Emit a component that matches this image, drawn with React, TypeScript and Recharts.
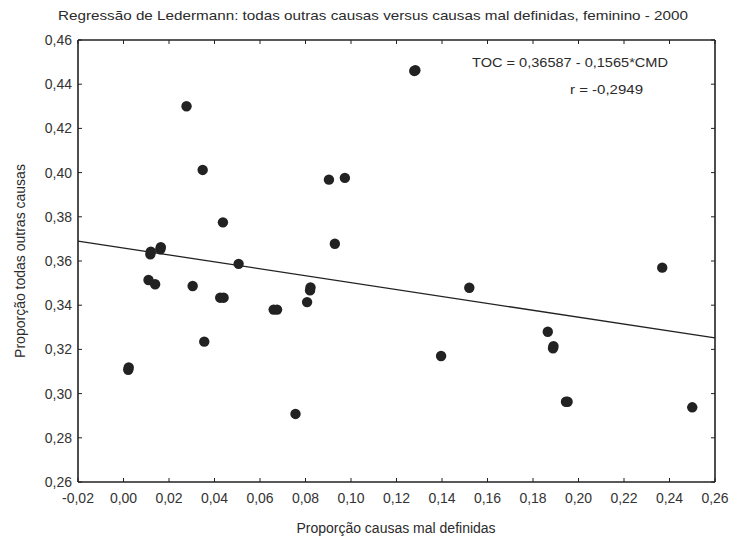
import React from "react";
import {
  ReferenceLine,
  Scatter,
  ScatterChart,
  XAxis,
  YAxis,
} from "recharts";

// proporção causas mal definidas (x) e proporção todas outras causas (y)
const cmdValues = [
  0.0021, 0.0023, 0.011, 0.0139, 0.0118, 0.012, 0.0162, 0.0164, 0.0277,
  0.0304, 0.0348, 0.0355, 0.0437, 0.0425, 0.044, 0.0506, 0.066, 0.0675,
  0.0756, 0.0807, 0.082, 0.0822, 0.0903, 0.0929, 0.0973, 0.1278, 0.1283,
  0.1396, 0.152, 0.1865, 0.1888, 0.189, 0.1945, 0.1952, 0.2368, 0.25,
];
const tocValues = [
  0.3108, 0.3118, 0.3514, 0.3495, 0.363, 0.3642, 0.3653, 0.3663, 0.43,
  0.3487, 0.4012, 0.3235, 0.3775, 0.3434, 0.3434, 0.3587, 0.338, 0.338,
  0.2908, 0.3414, 0.3467, 0.348, 0.3968, 0.3678, 0.3976, 0.446, 0.4463,
  0.317, 0.3479, 0.328, 0.3205, 0.3215, 0.2963, 0.2963, 0.357, 0.2938,
];

const xTicks = [
  -0.02, 0, 0.02, 0.04, 0.06, 0.08, 0.1, 0.12, 0.14, 0.16, 0.18, 0.2, 0.22,
  0.24, 0.26,
];
const yTicks = [0.26, 0.28, 0.3, 0.32, 0.34, 0.36, 0.38, 0.4, 0.42, 0.44, 0.46];

// regressão: TOC = 0,36587 - 0,1565*CMD
const intercept = 0.36587;
const slope = -0.1565;

const points = cmdValues.map((x, i) => ({ x, y: tocValues[i] }));
const fitLine = [
  { x: xTicks[0], y: intercept + slope * xTicks[0] },
  { x: xTicks[xTicks.length - 1], y: intercept + slope * xTicks[xTicks.length - 1] },
];

const FONT = "'Liberation Sans', Arial, sans-serif";
const INK = "#222";
const fmt = (v: number) => v.toFixed(2).replace(".", ",");
const tickStyle = { fill: "#333", fontSize: 14, fontFamily: FONT };
const noLabel = () => "";

const Dot = (props: any) => <circle cx={props.cx} cy={props.cy} r={5.2} fill={INK} />;
const NoDot = () => <g />;

export default function App() {
  return (
    <div style={{ position: "absolute", left: 0, top: 0, width: 734, height: 541, background: "#fff" }}>
      <ScatterChart width={734} height={541} margin={{ top: 39, right: 18, bottom: 29, left: 38 }}>
        <XAxis
          dataKey="x"
          type="number"
          domain={[-0.02, 0.26]}
          ticks={xTicks}
          tickFormatter={fmt}
          tick={tickStyle}
          tickSize={-4}
          tickMargin={15}
          height={30}
          axisLine={{ stroke: INK, strokeWidth: 1.6 }}
          tickLine={{ stroke: INK }}
        />
        <XAxis
          xAxisId="top"
          dataKey="x"
          orientation="top"
          type="number"
          domain={[-0.02, 0.26]}
          ticks={xTicks}
          tickFormatter={noLabel}
          tickSize={-4}
          height={1}
          axisLine={{ stroke: INK, strokeWidth: 1.6 }}
          tickLine={{ stroke: INK }}
        />
        <YAxis
          dataKey="y"
          type="number"
          domain={[0.26, 0.46]}
          ticks={yTicks}
          tickFormatter={fmt}
          tick={tickStyle}
          tickSize={-4}
          tickMargin={10}
          width={40}
          axisLine={{ stroke: INK, strokeWidth: 1.6 }}
          tickLine={{ stroke: INK }}
        />
        <YAxis
          yAxisId="right"
          dataKey="y"
          orientation="right"
          type="number"
          domain={[0.26, 0.46]}
          ticks={yTicks}
          tickFormatter={noLabel}
          tickSize={-4}
          width={1}
          axisLine={{ stroke: INK, strokeWidth: 1.6 }}
          tickLine={{ stroke: INK }}
        />
        <ReferenceLine
          segment={fitLine}
          stroke={INK}
          strokeWidth={1.3}
          ifOverflow="visible"
        />
        {/* invisible series so the top/right frame axes are drawn */}
        <Scatter
          data={points}
          xAxisId="top"
          yAxisId="right"
          shape={<NoDot />}
          isAnimationActive={false}
        />
        <Scatter data={points} shape={<Dot />} isAnimationActive={false} />
      </ScatterChart>
      <svg
        width={734}
        height={541}
        style={{ position: "absolute", left: 0, top: 0, pointerEvents: "none" }}
        fontFamily={FONT}
        fill="#2b2b2b"
      >
        <text x={58} y={20} fontSize={13.5} textLength={630} lengthAdjust="spacingAndGlyphs">
          Regressão de Ledermann: todas outras causas versus causas mal definidas, feminino - 2000
        </text>
        <text x={472} y={67} fontSize={13.5} textLength={196} lengthAdjust="spacingAndGlyphs">
          TOC = 0,36587 - 0,1565*CMD
        </text>
        <text x={570} y={94} fontSize={13.5} textLength={73} lengthAdjust="spacingAndGlyphs">
          r = -0,2949
        </text>
        <text x={396} y={533} fontSize={14} textAnchor="middle">
          Proporção causas mal definidas
        </text>
        <text
          x={25}
          y={261}
          fontSize={14}
          textAnchor="middle"
          transform="rotate(-90 25 261)"
        >
          Proporção todas outras causas
        </text>
      </svg>
    </div>
  );
}
